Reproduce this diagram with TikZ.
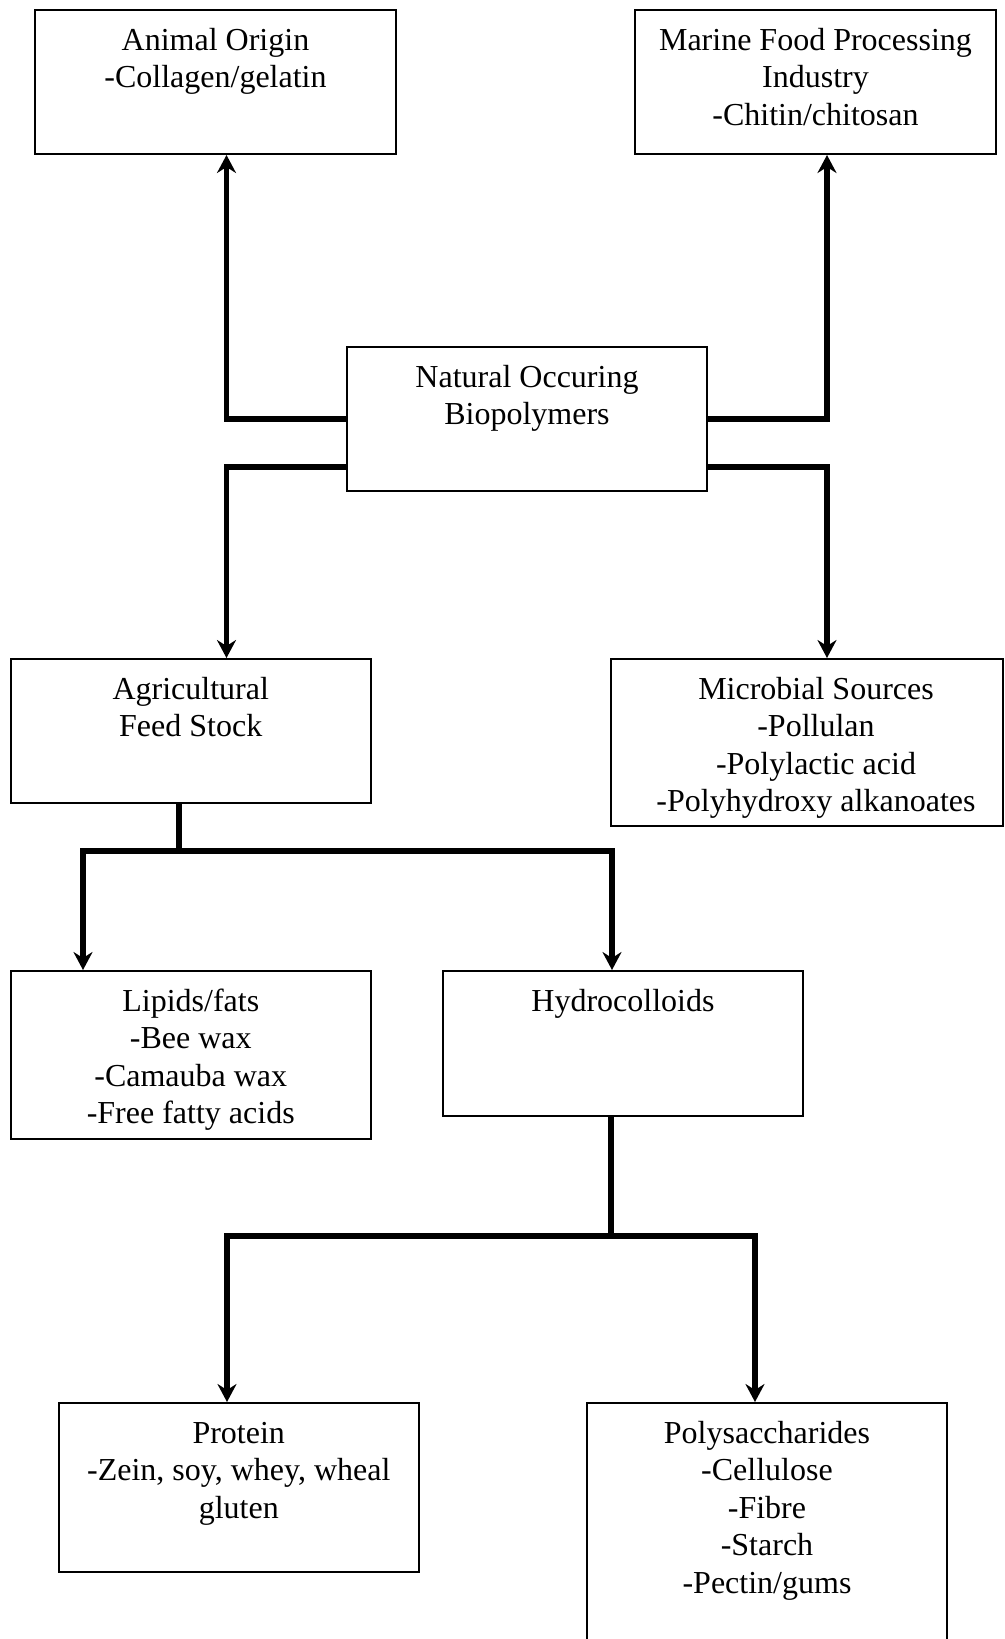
\documentclass[tikz,border=0pt]{standalone}
\usepackage{fontspec}
\setmainfont{Liberation Serif}
\usetikzlibrary{arrows.meta}

% one drawing unit = 0.5pt
\newlength\px
\setlength\px{0.5pt}

% box contents: width, height, centred lines hung from the top edge
\newcommand\cellbox[3]{%
  \parbox[c][#2\px][t]{#1\px}{%
    \fontsize{16pt}{18.75pt}\selectfont\centering
    \rule{0pt}{40\px}#3}}

\begin{document}
\begin{tikzpicture}[
    x=0.5pt, y=-0.5pt,
    box/.style={draw, line width=1pt, inner sep=0pt},
    link/.style={line width=2.8pt},
    conn/.style={link, -{Stealth[length=9pt, width=9.5pt, inset=3pt]}}
  ]
  \useasboundingbox (0,0) rectangle (1005,1639);
  \fill[white] (0,0) rectangle (1005,1639);
  \clip (0,0) rectangle (1005,1639);

  % sources
  \node[box] (ani) at (215.5,82)
    {\cellbox{361}{144}{Animal Origin\\-Collagen/gelatin}};
  \node[box] (mar) at (815.5,82)
    {\cellbox{361}{144}{Marine Food Processing\\Industry\\-Chitin/chitosan}};
  \node[box] (nat) at (527,419)
    {\cellbox{360}{144}{Natural Occuring\\Biopolymers}};
  \node[box] (agr) at (190.75,731)
    {\cellbox{360}{144}{Agricultural\\Feed Stock}};
  \node[box] (mic) at (807,742.5)
    {\cellbox{392}{167}{\leftskip=18\px plus 1fil
      Microbial Sources\\-Pollulan\\-Polylactic acid\\-Polyhydroxy alkanoates}};

  % agricultural branches
  \node[box] (lip) at (190.75,1055)
    {\cellbox{360}{168}{Lipids/fats\\-Bee wax\\-Camauba wax\\-Free fatty acids}};
  \node[box] (hyd) at (623,1043.5)
    {\cellbox{360}{145}{Hydrocolloids}};

  % hydrocolloid branches
  \node[box] (pro) at (238.75,1487.5)
    {\cellbox{360}{169}{Protein\\-Zein, soy, whey, wheal\\gluten}};
  \node[box] (pol) at (767,1541.5)
    {\cellbox{360}{277}{Polysaccharides\\-Cellulose\\-Fibre\\-Starch\\-Pectin/gums}};

  % vertical runs of the connectors
  \coordinate (xL) at (226.5,0);
  \coordinate (xR) at (827,0);
  \coordinate (agrj) at (179,851);
  \coordinate (agrl) at (83,851);
  \coordinate (agrr) at (612,851);
  \coordinate (hydj) at (611,1236);
  \coordinate (hydl) at (227,1236);
  \coordinate (hydr) at (755,1236);

  % from the central box
  \draw[conn] (nat.west) -| (ani.south -| xL);
  \draw[conn] (nat.east) -| (mar.south -| xR);
  \draw[conn] ([yshift=-24pt]nat.west) -| (agr.north -| xL);
  \draw[conn] ([yshift=-24pt]nat.east) -| (mic.north -| xR);

  % agricultural feed stock
  \draw[link] (agr.south -| agrj) -- (agrj);
  \draw[conn] (agrj) -| (lip.north -| agrl);
  \draw[conn] (agrj) -| (hyd.north -| agrr);

  % hydrocolloids
  \draw[link] (hyd.south -| hydj) -- (hydj);
  \draw[conn] (hydj) -| (pro.north -| hydl);
  \draw[conn] (hydj) -| (pol.north -| hydr);
\end{tikzpicture}
\end{document}
